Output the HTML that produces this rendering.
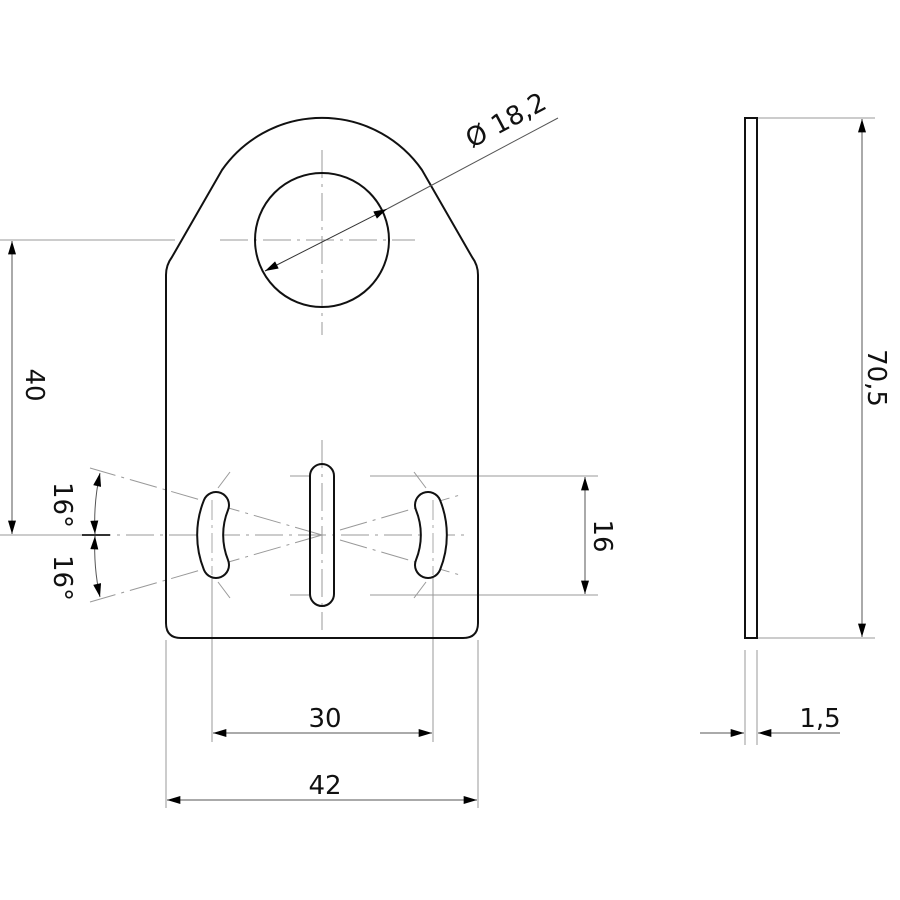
<!DOCTYPE html>
<html><head><meta charset="utf-8"><style>
html,body{margin:0;padding:0;background:#fff}
svg{display:block}
text{font-family:"DejaVu Sans","Liberation Sans",sans-serif;fill:#111}
</style></head><body>
<svg width="900" height="900" viewBox="0 0 900 900" xmlns="http://www.w3.org/2000/svg">
<defs>
<marker id="a" viewBox="0 0 10 6" refX="10" refY="3" markerWidth="20" markerHeight="8" markerUnits="userSpaceOnUse" orient="auto-start-reverse"><path d="M0,0 L10,3 L0,6 Z" fill="#000"/></marker>
</defs>
<g stroke="#999" stroke-width="1" fill="none" stroke-dasharray="28,6,3,6">
<line x1="322" y1="150" x2="322" y2="335"/>
<line x1="220" y1="240" x2="415" y2="240"/>
<line x1="40" y1="535" x2="470" y2="535"/>
<line x1="322" y1="440" x2="322" y2="630"/>
<line x1="322" y1="535" x2="90" y2="468"/>
<line x1="322" y1="535" x2="90" y2="602"/>
<line x1="340" y1="530" x2="460" y2="495"/>
<line x1="340" y1="540" x2="460" y2="575"/>
</g>
<g stroke="#999" stroke-width="1" fill="none">
<line x1="0" y1="240" x2="175" y2="240"/>
<line x1="0" y1="535" x2="110" y2="535"/>
<line x1="370" y1="476" x2="598" y2="476"/>
<line x1="370" y1="595" x2="598" y2="595"/>
<line x1="290" y1="476" x2="310" y2="476"/>
<line x1="290" y1="595" x2="310" y2="595"/>
<line x1="212" y1="515" x2="212" y2="742"/>
<line x1="433" y1="515" x2="433" y2="742"/>
<line x1="166" y1="640" x2="166" y2="808"/>
<line x1="478" y1="640" x2="478" y2="808"/>
<line x1="757" y1="118" x2="875" y2="118"/>
<line x1="757" y1="638" x2="875" y2="638"/>
<line x1="745" y1="650" x2="745" y2="745"/>
<line x1="757" y1="650" x2="757" y2="745"/>
<line x1="218" y1="488" x2="230" y2="472"/><line x1="218" y1="582" x2="230" y2="598"/>
<line x1="426" y1="488" x2="414" y2="472"/><line x1="426" y1="582" x2="414" y2="598"/>
</g>
<path d="M166,275 Q166,265 172,257 L222,170 A122,122 0 0 1 422,170 L472,257 Q478,265 478,275 L478,623 Q478,638 463,638 L181,638 Q166,638 166,623 Z" fill="none" stroke="#111" stroke-width="2"/>
<circle cx="322" cy="240" r="67" fill="none" stroke="#111" stroke-width="2"/>
<rect x="310" y="464" width="24" height="142" rx="12" fill="none" stroke="#111" stroke-width="2"/>
<g fill="none" stroke-linecap="round">
<path d="M216,505 A80,80 0 0 0 216,565" stroke="#111" stroke-width="28"/>
<path d="M216,505 A80,80 0 0 0 216,565" stroke="#fff" stroke-width="24"/>
<path d="M428,505 A80,80 0 0 1 428,565" stroke="#111" stroke-width="28"/>
<path d="M428,505 A80,80 0 0 1 428,565" stroke="#fff" stroke-width="24"/>
</g>
<g stroke="#aaa" stroke-width="1" stroke-dasharray="20,5,3,5">
<line x1="212" y1="500" x2="212" y2="575"/><line x1="433" y1="500" x2="433" y2="575"/>
</g>
<rect x="745" y="118" width="12" height="520" fill="none" stroke="#111" stroke-width="2"/>
<g stroke="#555" stroke-width="1" fill="none">
<line x1="12" y1="241" x2="12" y2="534" marker-start="url(#a)" marker-end="url(#a)"/>
<line x1="585" y1="477" x2="585" y2="594" marker-start="url(#a)" marker-end="url(#a)"/>
<line x1="213" y1="733" x2="432" y2="733" marker-start="url(#a)" marker-end="url(#a)"/>
<line x1="167" y1="800" x2="477" y2="800" marker-start="url(#a)" marker-end="url(#a)"/>
<line x1="862" y1="119" x2="862" y2="637" marker-start="url(#a)" marker-end="url(#a)"/>
<line x1="700" y1="733" x2="744" y2="733" marker-end="url(#a)"/>
<line x1="840" y1="733" x2="758" y2="733" marker-end="url(#a)"/>
<path d="M100,473 A228,228 0 0 0 95,534" marker-start="url(#a)" marker-end="url(#a)"/>
<path d="M95,536 A228,228 0 0 0 100,597" marker-start="url(#a)" marker-end="url(#a)"/>
<line x1="82" y1="535" x2="110" y2="535" stroke="#333" stroke-width="2"/>
<line x1="265" y1="271" x2="387" y2="209" stroke="#333" marker-start="url(#a)" marker-end="url(#a)"/>
<line x1="387" y1="209" x2="558" y2="118"/>
</g>
<text x="0" y="0" font-size="26" transform="translate(26,385) rotate(90)" text-anchor="middle">40</text>
<text x="0" y="0" font-size="26" transform="translate(54,505) rotate(90)" text-anchor="middle">16°</text>
<text x="0" y="0" font-size="26" transform="translate(54,578) rotate(90)" text-anchor="middle">16°</text>
<text x="0" y="0" font-size="26" transform="translate(594,536) rotate(90)" text-anchor="middle">16</text>
<text x="0" y="0" font-size="26" transform="translate(868,378) rotate(90)" text-anchor="middle">70,5</text>
<text x="325" y="727" font-size="26" text-anchor="middle">30</text>
<text x="325" y="794" font-size="26" text-anchor="middle">42</text>
<text x="820" y="727" font-size="26" text-anchor="middle">1,5</text>
<text x="0" y="0" font-size="26" transform="translate(510,128) rotate(-28)" text-anchor="middle">Ø 18,2</text>
</svg>
</body></html>
